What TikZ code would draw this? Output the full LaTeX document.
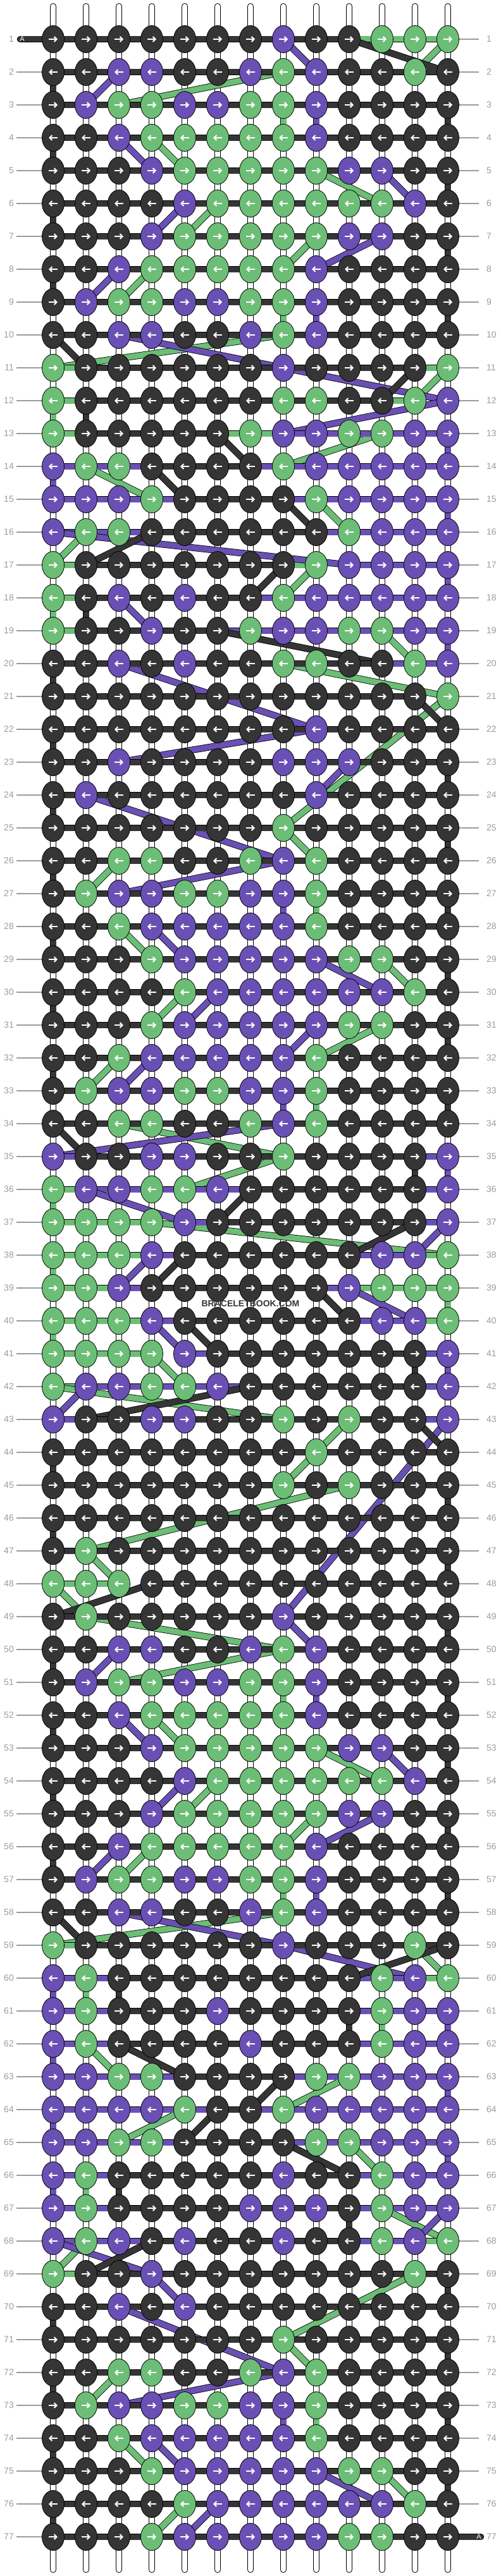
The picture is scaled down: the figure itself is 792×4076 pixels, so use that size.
\documentclass[tikz,border=0pt]{standalone}
\usepackage{fontspec}
\setmainfont{Liberation Sans}
\usetikzlibrary{shapes.geometric,arrows.meta}
\definecolor{cD}{HTML}{353535}
\definecolor{cP}{HTML}{6A50B4}
\definecolor{cG}{HTML}{6CBE76}
\definecolor{lblgray}{HTML}{9C9C9C}
\pgfdeclarelayer{strings}
\pgfdeclarelayer{threads}
\pgfsetlayers{strings,threads,main}
\newcount\kcnt
\def\parserow#1#2{\global\kcnt=0 \gdef\currow{#1}\parsechars#2\relax}
\def\parsechars#1{\ifx#1\relax\else\global\advance\kcnt by 1 \expandafter\xdef\csname K\currow:\the\kcnt\endcsname{#1}\expandafter\parsechars\fi}
\parserow{1}{DDDDDDDPDDGGG}
\parserow{2}{DDPPDDPGPDDGD}
\parserow{3}{DPGGPPGGPDDDD}
\parserow{4}{DDPGGGGGPDDDD}
\parserow{5}{DDDPGGGGGPPDD}
\parserow{6}{DDDDPGGGGGGPD}
\parserow{7}{DDDPGGGGGPPDD}
\parserow{8}{DDPGGGGGPDDDD}
\parserow{9}{DPGGPPGGPDDDD}
\parserow{10}{DDPPDDPGPDDDD}
\parserow{11}{GDDDDDDPDDDDG}
\parserow{12}{GDDDDDDGGDDGP}
\parserow{13}{GDDDDDGPPGGPP}
\parserow{14}{PGGDDDDGPPPPP}
\parserow{15}{PPPGDDDDGPPPP}
\parserow{16}{PGGDDDDDDGPPP}
\parserow{17}{GDDDDDDDGPPPP}
\parserow{18}{GDPDPDDGPPPPP}
\parserow{19}{GDDPDDGPPGGPP}
\parserow{20}{DDPDPDDGGDDGP}
\parserow{21}{DDDDDDDDDDDDG}
\parserow{22}{DDDDDDDDPDDDD}
\parserow{23}{DDPDDDDPPPDDD}
\parserow{24}{DPDDDDDDPDDDD}
\parserow{25}{DDDDDDDGDDDDD}
\parserow{26}{DDGGDDGPGDDDD}
\parserow{27}{DGPPGGPPGDDDD}
\parserow{28}{DDGPPPPPGDDDD}
\parserow{29}{DDDGPPPPPGGDD}
\parserow{30}{DDDDGPPPPPPGD}
\parserow{31}{DDDGPPPPPGGDD}
\parserow{32}{DDGPPPPPGDDDD}
\parserow{33}{DGPPGGPPGDDDD}
\parserow{34}{DDGGDDGPGDDDD}
\parserow{35}{PDDPPDDGDDDDP}
\parserow{36}{GPPGGPDDDDDDP}
\parserow{37}{GGGGPDDDDDDDP}
\parserow{38}{GGGPDDDDDDPPG}
\parserow{39}{GGPDDDDDDPGGG}
\parserow{40}{GGGPDDDDDDPPG}
\parserow{41}{GGGGPDDDDDDDP}
\parserow{42}{GPPGGPDDDDDDP}
\parserow{43}{PDDPPDDGDGDDP}
\parserow{44}{DDDDDDDDGDDDD}
\parserow{45}{DDDDDDDGDGDDD}
\parserow{46}{DDDDDDDDDDDDD}
\parserow{47}{DGDDDDDDDDDDD}
\parserow{48}{GGGDDDDDDDDDD}
\parserow{49}{DGDDDDDPDDDDD}
\parserow{50}{DDPPDDPGPDDDD}
\parserow{51}{DPGGPPGGPDDDD}
\parserow{52}{DDPGGGGGPDDDD}
\parserow{53}{DDDPGGGGGPPDD}
\parserow{54}{DDDDPGGGGGGPD}
\parserow{55}{DDDPGGGGGPPDD}
\parserow{56}{DDPGGGGGPDDDD}
\parserow{57}{DPGGPPGGPDDDD}
\parserow{58}{DDPPDDPGPDDDD}
\parserow{59}{GDDDDDDPDDDGD}
\parserow{60}{PGDDDDDDDDGPG}
\parserow{61}{PGDDDPDDDDGPP}
\parserow{62}{PGDDDDPDDDGPP}
\parserow{63}{PPGGDDDDGGPPP}
\parserow{64}{PPPPGDDGPPPPP}
\parserow{65}{PPGGDDDDGGPPP}
\parserow{66}{PGDDDDDPDDGPP}
\parserow{67}{PGDDDDPPPDGPP}
\parserow{68}{PGPDPDDPDDGPG}
\parserow{69}{GDDPDDDDDDDGD}
\parserow{70}{DDPDPDDDDDDDD}
\parserow{71}{DDDDDDDGDDDDD}
\parserow{72}{DDGGDDGPGDDDD}
\parserow{73}{DGPPGGPPGDDDD}
\parserow{74}{DDGPPPPPGDDDD}
\parserow{75}{DDDGPPPPPGGDD}
\parserow{76}{DDDDGPPPPPPGD}
\parserow{77}{DDDGPPPPPGGDD}
\tikzset{
 knot/.style={ellipse, draw=black, line width=0.8pt, minimum width=35pt, minimum height=43pt, inner sep=0pt},
 arrw/.style={white, line width=2pt, -{Straight Barb[length=4pt,width=8pt]}},
 thr/.style={draw=black, line width=0.8pt, double=#1, double distance=9pt, line cap=round, line join=round},
 rowlbl/.style={text=lblgray, font=\fontsize{14}{14}\selectfont, inner sep=0pt},
 lblline/.style={lblgray, line width=1.2pt},
 strout/.style={black, line width=10pt, line cap=round},
 strin/.style={white, line width=8pt, line cap=round},
 atag/.style={text=white, font=\fontsize{11}{11}\selectfont, inner sep=0pt},
}
\begin{document}
\begin{tikzpicture}[x=1pt,y=-1pt]
\useasboundingbox (0,0) rectangle (792,4076);
% base strings
\begin{pgfonlayer}{strings}
\foreach \c in {1,...,13}{
  \edef\xx{\the\numexpr84+(\c-1)*52\relax}
  \draw[strout] (\xx,10) -- (\xx,4066);
  \draw[strin] (\xx,10) -- (\xx,4066);
}
\end{pgfonlayer}
% knots, arrows, row labels
\foreach \r in {1,...,77}{
  \edef\yy{\the\numexpr62+(\r-1)*52\relax}
  \foreach \c in {1,...,13}{
    \edef\xx{\the\numexpr84+(\c-1)*52\relax}
    \edef\kc{\csname K\r:\c\endcsname}
    \edef\tmp{\noexpand\node[knot,fill=c\kc] (k-\r-\c) at (\xx,\yy) {};}\tmp
    \ifodd\r\relax
      \draw[arrw] (\xx-7,\yy) -- (\xx+7,\yy);
    \else
      \draw[arrw] (\xx+7,\yy) -- (\xx-7,\yy);
    \fi
  }
  \node[rowlbl, anchor=east] (ll-\r) at (22,\yy) {\r};
  \node[rowlbl, anchor=west] (rl-\r) at (769,\yy) {\r};
}
% label lines
\begin{pgfonlayer}{strings}
\foreach \r in {1,...,77}{
  \ifnum\r>1\relax \draw[lblline] ([xshift=4pt]ll-\r.east) -- (k-\r-1.center);\fi
  \ifnum\r<77\relax \draw[lblline] (k-\r-13.center) -- ([xshift=-12pt]rl-\r.west);\fi
}
\end{pgfonlayer}
% threads
\coordinate (sG) at (552,62);
\coordinate (sP) at (396,62);
\coordinate (sD) at (32,62);
\coordinate (eD) at (760,4014);
\begin{pgfonlayer}{threads}
\foreach \X in {G,P,D}{
  \edef\XX{\X}
  \xdef\prev{s\XX}
  \foreach \r in {1,...,77}{
    \foreach \cc in {1,...,13}{
      \ifodd\r\relax \edef\c{\cc}\else \edef\c{\the\numexpr14-\cc\relax}\fi
      \edef\kc{\csname K\r:\c\endcsname}
      \ifx\kc\XX
        \edef\tmp{\noexpand\draw[thr=c\XX] (\prev.center) -- (k-\r-\c.center);}\tmp
        \xdef\prev{k-\r-\c}
      \fi
    }
  }
}
\draw[thr=cD] (k-77-13.center) -- (eD);
\end{pgfonlayer}
\node[atag] (aL) at (35,62) {A};
\node[atag] (aR) at (757,4014) {A};
\node[font=\bfseries\fontsize{14}{14}\selectfont, text=cD, inner sep=0pt] (wm) at (396,2063) {BRACELETBOOK.COM};
\end{tikzpicture}
\end{document}
